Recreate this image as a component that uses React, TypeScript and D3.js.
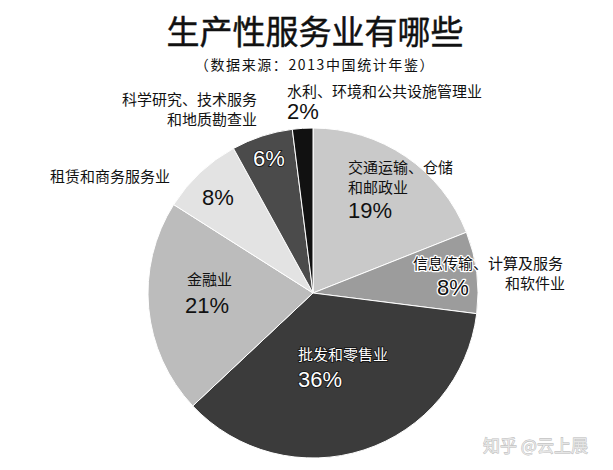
import React from "react";
import * as d3 from "d3";

const categories = [
  "交通运输、仓储和邮政业",
  "信息传输、计算及服务和软件业",
  "批发和零售业",
  "金融业",
  "租赁和商务服务业",
  "科学研究、技术服务和地质勘查业",
  "水利、环境和公共设施管理业",
];
const values = [19, 8, 36, 21, 8, 6, 2];
const sliceColors = ["#c9c9c9", "#9c9c9c", "#3b3b3b", "#bcbcbc", "#e3e3e3", "#4b4b4b", "#111111"];

const title = "生产性服务业有哪些";
const subtitle = "（数据来源：2013中国统计年鉴）";
const watermark = "知乎 @云上展";

type Style = "plain" | "whiteOnDark" | "darkHalo";
type Part = { text: string; style: Style };
type Lbl = {
  parts: Part[];
  x: number;
  y: number;
  anchor?: "start" | "end" | "middle";
  kind: "cn" | "pct";
};

const labels: Lbl[] = [
  { parts: [{ text: "水利、环境和公共设施管理业", style: "plain" }], x: 287, y: 97, kind: "cn" },
  { parts: [{ text: "2%", style: "plain" }], x: 287, y: 119, kind: "pct" },
  { parts: [{ text: "科学研究、技术服务", style: "plain" }], x: 257, y: 105, anchor: "end", kind: "cn" },
  { parts: [{ text: "和地质勘查业", style: "plain" }], x: 257, y: 125, anchor: "end", kind: "cn" },
  { parts: [{ text: "6%", style: "whiteOnDark" }], x: 253, y: 166, kind: "pct" },
  { parts: [{ text: "租赁和商务服务业", style: "plain" }], x: 50, y: 182, kind: "cn" },
  { parts: [{ text: "8%", style: "plain" }], x: 202, y: 205, kind: "pct" },
  { parts: [{ text: "交通运输、仓储", style: "plain" }], x: 348, y: 173, kind: "cn" },
  { parts: [{ text: "和邮政业", style: "plain" }], x: 348, y: 193, kind: "cn" },
  { parts: [{ text: "19%", style: "plain" }], x: 348, y: 218, kind: "pct" },
  {
    parts: [
      { text: "信息传输、", style: "darkHalo" },
      { text: "计算及服务", style: "plain" },
    ],
    x: 413,
    y: 269,
    kind: "cn",
  },
  { parts: [{ text: "和软件业", style: "plain" }], x: 565, y: 289, anchor: "end", kind: "cn" },
  { parts: [{ text: "8%", style: "darkHalo" }], x: 437, y: 295, kind: "pct" },
  { parts: [{ text: "金融业", style: "plain" }], x: 187, y: 285, kind: "cn" },
  { parts: [{ text: "21%", style: "plain" }], x: 185, y: 313, kind: "pct" },
  { parts: [{ text: "批发和零售业", style: "whiteOnDark" }], x: 298, y: 360, kind: "cn" },
  { parts: [{ text: "36%", style: "whiteOnDark" }], x: 298, y: 387, kind: "pct" },
];

const W = 613;
const H = 470;
const CX = 313;
const CY = 293;
const R = 165;

const CN_FONT = "'Noto Sans CJK SC', 'Noto Sans', sans-serif";
const PCT_FONT = "'Liberation Sans', Arial, sans-serif";

function partProps(style: Style): any {
  if (style === "whiteOnDark") {
    return { fill: "#fff", stroke: "#111", strokeWidth: 1.6, style: { paintOrder: "stroke" } };
  }
  if (style === "darkHalo") {
    return {
      fill: "#111",
      stroke: "#fff",
      strokeWidth: 2.5,
      strokeLinejoin: "round",
      style: { paintOrder: "stroke" },
    };
  }
  return { fill: "#111", stroke: "none" };
}

export default function App() {
  const pie = d3
    .pie<number>()
    .value((d) => d)
    .sort(null)
    .startAngle(0)
    .endAngle(2 * Math.PI);
  const arcs = pie(values);
  const arcGen = d3.arc<d3.PieArcDatum<number>>().innerRadius(0).outerRadius(R);

  return (
    <svg
      width={W}
      height={H}
      viewBox={`0 0 ${W} ${H}`}
      style={{ position: "absolute", left: 0, top: 0, background: "#fff" }}
    >
      <rect x={0} y={0} width={W} height={H} fill="#fff" />
      <text
        x={315}
        y={44}
        textAnchor="middle"
        fontFamily={CN_FONT}
        fontSize={33}
        fontWeight={400}
        fill="#111"
        stroke="#111"
        strokeWidth={0.45}
      >
        {title}
      </text>
      <text
        x={315}
        y={69.5}
        textAnchor="middle"
        fontFamily={CN_FONT}
        fontSize={14}
        letterSpacing={1.6}
        fill="#111"
      >
        {subtitle}
      </text>
      <g transform={`translate(${CX},${CY})`}>
        {arcs.map((a, i) => (
          <path
            key={categories[i]}
            d={arcGen(a) || ""}
            fill={sliceColors[i]}
            stroke="#fff"
            strokeWidth={1}
          />
        ))}
      </g>
      {labels.map((l, i) => (
        <text
          key={i}
          x={l.x}
          y={l.y}
          textAnchor={l.anchor || "start"}
          fontFamily={l.kind === "cn" ? CN_FONT : PCT_FONT}
          fontSize={l.kind === "cn" ? 15 : 22}
        >
          {l.parts.map((p, j) => (
            <tspan key={j} {...partProps(p.style)}>
              {p.text}
            </tspan>
          ))}
        </text>
      ))}
      <text
        x={483}
        y={452}
        fontFamily={CN_FONT}
        fontSize={17}
        fill="#e6e6e6"
        stroke="#b5b5b5"
        strokeWidth={0.8}
        style={{ paintOrder: "stroke" }}
      >
        {watermark}
      </text>
    </svg>
  );
}
